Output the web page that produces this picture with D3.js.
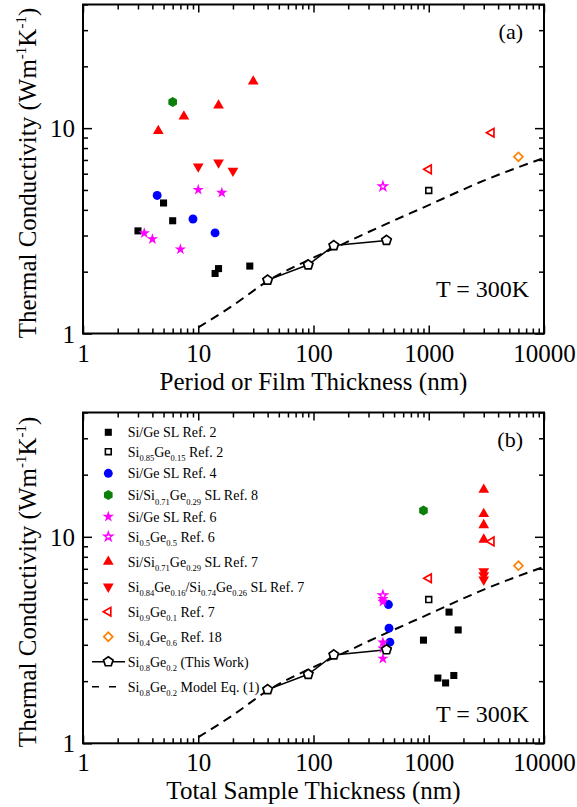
<!DOCTYPE html>
<html>
<head>
<meta charset="utf-8">
<script src="https://cdnjs.cloudflare.com/ajax/libs/d3/7.8.5/d3.min.js"></script>
<style>
body { margin: 0; background: #fff; }
text { font-family: "Liberation Serif", "Times New Roman", serif; fill: #000; }
</style>
</head>
<body>
<div id="chart-area"></div>
<script>
/*
*    Thermal conductivity vs thickness, two log-log panels
*/

/* Data */

// Si/Ge SL Ref. 2 (filled squares)
const sqPeriod = [3, 5, 6, 14, 15, 28]
const sqTotal = [900, 1500, 1800, 1400, 1200, 1650]
const sqK = [3.16, 4.32, 3.54, 1.96, 2.07, 2.13]

// Si0.85Ge0.15 Ref. 2 (open square)
const sqOpenX = [1000]
const sqOpenK = [4.97]

// Si/Ge SL Ref. 4 (blue circles)
const circPeriod = [4.4, 9, 14]
const circTotal = [447, 452, 460]
const circK = [4.70, 3.61, 3.09]

// Si/Si0.71Ge0.29 SL Ref. 8 (green hexagon)
const hexPeriod = [6]
const hexTotal = [900]
const hexK = [13.4]

// Si/Ge SL Ref. 6 (filled stars)
const starPeriod = [3.4, 4, 7, 10, 16]
const starTotal = [400, 400, 400, 400, 400]
const starK = [3.08, 2.88, 2.57, 5.01, 4.85]

// Si0.5Ge0.5 Ref. 6 (open star)
const starOpenX = [400]
const starOpenK = [5.2]

// Si/Si0.71Ge0.29 SL Ref. 7 (up triangles)
const upPeriod = [4.5, 7.5, 15, 30]
const upTotal = [3000, 3000, 3000, 3000]
const upK = [9.7, 11.4, 12.9, 16.9]

// Si0.84Ge0.16/Si0.74Ge0.26 SL Ref. 7 (down triangles)
const downPeriod = [10, 15, 20]
const downTotal = [3000, 3000, 3000]
const downK = [6.5, 6.8, 6.2]

// Si0.9Ge0.1 Ref. 7 (open left triangles)
const leftX = [1000, 3500]
const leftK = [6.3, 9.5]

// Si0.4Ge0.6 Ref. 18 (open diamond)
const diaX = [6000]
const diaK = [7.25]

// Si0.8Ge0.2 (This Work)
const workX = [40, 90, 150, 430]
const workK = [1.82, 2.16, 2.68, 2.84]

// Si0.8Ge0.2 Model Eq. (1)
const modelX = [10, 20, 40, 100, 150, 300, 1000, 3000, 10000]
const modelK = [1.07, 1.37, 1.80, 2.34, 2.60, 3.12, 4.22, 5.55, 7.16]

// ticks
const xMajor = [1, 10, 100, 1000, 10000]
const yMajor = [1, 10]

const legendLabels = [
    "Si/Ge SL Ref. 2",
    "Si_{0.85}Ge_{0.15} Ref. 2",
    "Si/Ge SL Ref. 4",
    "Si/Si_{0.71}Ge_{0.29} SL Ref. 8",
    "Si/Ge SL Ref. 6",
    "Si_{0.5}Ge_{0.5} Ref. 6",
    "Si/Si_{0.71}Ge_{0.29} SL Ref. 7",
    "Si_{0.84}Ge_{0.16}/Si_{0.74}Ge_{0.26} SL Ref. 7",
    "Si_{0.9}Ge_{0.1} Ref. 7",
    "Si_{0.4}Ge_{0.6} Ref. 18",
    "Si_{0.8}Ge_{0.2} (This Work)",
    "Si_{0.8}Ge_{0.2} Model Eq. (1)"
]
const legendMarkers = ["square", "squareOpen", "circle", "hexagon", "star", "starOpen",
    "triUp", "triDown", "triLeft", "diamond", "work", "model"]

/* Series table */

const series = [
    { type: "square", a: sqPeriod, b: sqTotal, k: sqK },
    { type: "squareOpen", a: sqOpenX, b: sqOpenX, k: sqOpenK },
    { type: "circle", a: circPeriod, b: circTotal, k: circK },
    { type: "hexagon", a: hexPeriod, b: hexTotal, k: hexK },
    { type: "star", a: starPeriod, b: starTotal, k: starK },
    { type: "starOpen", a: starOpenX, b: starOpenX, k: starOpenK },
    { type: "triUp", a: upPeriod, b: upTotal, k: upK },
    { type: "triDown", a: downPeriod, b: downTotal, k: downK },
    { type: "triLeft", a: leftX, b: leftX, k: leftK },
    { type: "diamond", a: diaX, b: diaX, k: diaK },
]

/* SVG */

const WIDTH = 577
const HEIGHT = 807
const LEFT = 83
const RIGHT = 544

const svg = d3.select("#chart-area").append("svg")
    .attr("width", WIDTH)
    .attr("height", HEIGHT)

svg.append("rect").attr("width", WIDTH).attr("height", HEIGHT).attr("fill", "white")

const x = d3.scaleLog().domain([1, 10000]).range([LEFT, RIGHT])

// marker shapes
const poly = d3.lineRadial().curve(d3.curveLinearClosed)
function polygon(n, r, start) {
    return poly(d3.range(n).map(i => [start + i * 2 * Math.PI / n, r]))
}

function drawMarker(g, type, px, py) {
    let p
    let rot = 0
    if (type == "square") {
        p = g.append("path").attr("d", d3.symbol(d3.symbolSquare, 50)()).attr("fill", "black")
    } else if (type == "squareOpen") {
        p = g.append("path").attr("d", d3.symbol(d3.symbolSquare, 34)())
            .attr("fill", "white").attr("stroke", "black").attr("stroke-width", 1.6)
    } else if (type == "circle") {
        p = g.append("path").attr("d", d3.symbol(d3.symbolCircle, 62)()).attr("fill", "#0000ff")
    } else if (type == "hexagon") {
        p = g.append("path").attr("d", polygon(6, 5, 0)).attr("fill", "#0a800a")
    } else if (type == "star") {
        p = g.append("path").attr("d", d3.symbol(d3.symbolStar, 40)()).attr("fill", "#ff00ff")
    } else if (type == "starOpen") {
        p = g.append("path").attr("d", d3.symbol(d3.symbolStar, 24)())
            .attr("fill", "white").attr("stroke", "#ff00ff").attr("stroke-width", 1.4)
    } else if (type == "triUp") {
        p = g.append("path").attr("d", d3.symbol(d3.symbolTriangle, 50)()).attr("fill", "#ff0000")
    } else if (type == "triDown") {
        p = g.append("path").attr("d", d3.symbol(d3.symbolTriangle, 50)()).attr("fill", "#ff0000")
        rot = 180
    } else if (type == "triLeft") {
        p = g.append("path").attr("d", polygon(3, 5, -Math.PI / 2))
            .attr("fill", "white").attr("stroke", "#ff0000").attr("stroke-width", 1.7)
    } else if (type == "diamond") {
        p = g.append("path").attr("d", d3.symbol(d3.symbolSquare, 40)())
            .attr("fill", "white").attr("stroke", "#ff8000").attr("stroke-width", 1.7)
        rot = 45
    } else if (type == "pentagon") {
        p = g.append("path").attr("d", polygon(5, 5, 0))
            .attr("fill", "white").attr("stroke", "black").attr("stroke-width", 1.7)
    }
    p.attr("transform", `translate(${px},${py}) rotate(${rot})`)
    return p
}

// legend row centres, relative to panel top
const legendRows = [19.8, 39.2, 60.8, 82.5, 104.2, 124.2, 149.2, 174.2, 199.2, 224.2, 249.2, 274.2]

function addRichText(t, label, base, sub) {
    const parts = label.split(/_\{([^}]*)\}/)
    parts.forEach((s, i) => {
        if (s === "") return
        if (i % 2 == 1) {
            t.append("tspan").attr("font-size", sub).attr("dy", 4.5).text(s)
        } else {
            t.append("tspan").attr("font-size", base).attr("dy", i > 0 ? -4.5 : 0).text(s)
        }
    })
}

function drawPanel(cfg) {
    const top = cfg.top
    const bottom = cfg.bottom
    const y = d3.scaleLog().domain([1, 40]).range([bottom, top])
    const g = svg.append("g")

    const xMinor = x.ticks().filter(d => xMajor.indexOf(d) < 0)
    const yMinor = y.ticks().filter(d => yMajor.indexOf(d) < 0)

    // axes, ticks inward on all four sides
    const axes = [
        [d3.axisBottom(x).tickValues(xMajor).tickSize(-8).tickFormat(d3.format("d")), `translate(0,${bottom})`],
        [d3.axisBottom(x).tickValues(xMinor).tickSize(-5).tickFormat(""), `translate(0,${bottom})`],
        [d3.axisTop(x).tickValues(xMajor).tickSize(-8).tickFormat(""), `translate(0,${top})`],
        [d3.axisTop(x).tickValues(xMinor).tickSize(-5).tickFormat(""), `translate(0,${top})`],
        [d3.axisLeft(y).tickValues(yMajor).tickSize(-9).tickFormat(d3.format("d")), `translate(${LEFT},0)`],
        [d3.axisLeft(y).tickValues(yMinor).tickSize(-5).tickFormat(""), `translate(${LEFT},0)`],
        [d3.axisRight(y).tickValues(yMajor).tickSize(-9).tickFormat(""), `translate(${RIGHT},0)`],
        [d3.axisRight(y).tickValues(yMinor).tickSize(-5).tickFormat(""), `translate(${RIGHT},0)`],
    ]
    axes.forEach((a, i) => {
        const ag = g.append("g").attr("transform", a[1]).call(a[0])
        ag.select(".domain").remove()
        ag.selectAll("line").attr("stroke", "#000").attr("stroke-width", 1.5)
        ag.selectAll("text").attr("font-size", 25).attr("fill", "#000")
        if (i == 0) ag.selectAll("text").attr("y", 28).attr("dy", 0)
        if (i == 4) ag.selectAll("text").attr("x", -8).attr("dy", "0.34em")
    })

    g.append("rect")
        .attr("x", LEFT).attr("y", top)
        .attr("width", RIGHT - LEFT).attr("height", bottom - top)
        .attr("fill", "none").attr("stroke", "#000").attr("stroke-width", 2)

    // model line
    g.append("path")
        .datum(modelX.map((d, i) => [d, modelK[i]]))
        .attr("d", d3.line().x(d => x(d[0])).y(d => y(d[1])).curve(d3.curveMonotoneX))
        .attr("fill", "none").attr("stroke", "black").attr("stroke-width", 2)
        .attr("stroke-dasharray", "9,6")

    // this work line
    g.append("path")
        .datum(workX.map((d, i) => [d, workK[i]]))
        .attr("d", d3.line().x(d => x(d[0])).y(d => y(d[1])))
        .attr("fill", "none").attr("stroke", "black").attr("stroke-width", 1.5)

    series.forEach(s => {
        const xv = s[cfg.key]
        xv.forEach((v, i) => drawMarker(g, s.type, x(v), y(s.k[i])))
    })
    workX.forEach((v, i) => drawMarker(g, "pentagon", x(v), y(workK[i])))

    // axis titles
    g.append("text")
        .attr("x", (LEFT + RIGHT) / 2).attr("y", bottom + 56)
        .attr("text-anchor", "middle").attr("font-size", 25)
        .text(cfg.xTitle)

    const yt = g.append("text")
        .attr("transform", "rotate(-90)")
        .attr("x", -((top + bottom) / 2 + 4)).attr("y", 36)
        .attr("text-anchor", "middle").attr("font-size", 25)
    yt.append("tspan").text("Thermal Conductivity (Wm")
    yt.append("tspan").attr("font-size", 15).attr("dy", -10).text("-1")
    yt.append("tspan").attr("dy", 10).text("K")
    yt.append("tspan").attr("font-size", 15).attr("dy", -10).text("-1")
    yt.append("tspan").attr("dy", 10).text(")")

    g.append("text")
        .attr("x", 523).attr("y", top + 34)
        .attr("text-anchor", "end").attr("font-size", 22)
        .text(cfg.label)

    g.append("text")
        .attr("x", 529).attr("y", bottom - cfg.tOffset)
        .attr("text-anchor", "end").attr("font-size", 24)
        .text("T = 300K")

    if (cfg.legend) {
        const lg = g.append("g")
        legendLabels.forEach((label, i) => {
            const ly = top + legendRows[i]
            const m = legendMarkers[i]
            if (m == "work") {
                lg.append("line").attr("x1", 92).attr("x2", 125).attr("y1", ly).attr("y2", ly)
                    .attr("stroke", "black").attr("stroke-width", 1.5)
                drawMarker(lg, "pentagon", 108.3, ly)
            } else if (m == "model") {
                lg.append("line").attr("x1", 92).attr("x2", 116).attr("y1", ly).attr("y2", ly)
                    .attr("stroke", "black").attr("stroke-width", 1.5)
                    .attr("stroke-dasharray", "7,10")
            } else {
                drawMarker(lg, m, 108.3, ly)
            }
            const t = lg.append("text").attr("x", 127.7).attr("y", ly + 5)
            addRichText(t, label, 14, 8.5)
        })
    }
}

drawPanel({ top: 4.5, bottom: 333.5, key: "a", xTitle: "Period or Film Thickness (nm)",
    label: "(a)", tOffset: 37, legend: false })
drawPanel({ top: 412.5, bottom: 743.3, key: "b", xTitle: "Total Sample Thickness (nm)",
    label: "(b)", tOffset: 21, legend: true })
</script>
</body>
</html>
